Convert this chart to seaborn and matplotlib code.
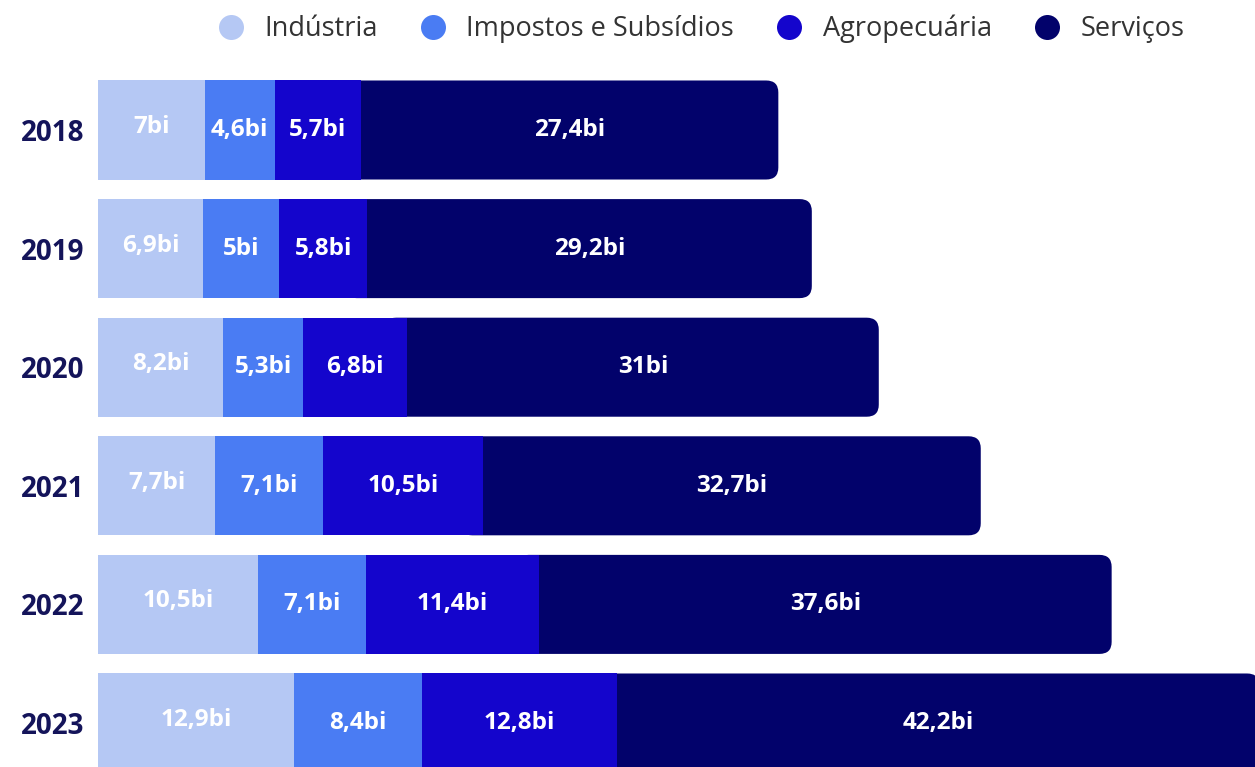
import matplotlib
matplotlib.use("Agg")
import matplotlib.pyplot as plt
from matplotlib.patches import FancyBboxPatch
from matplotlib.lines import Line2D
import numpy as np
import pandas as pd
import seaborn as sns

# PIB por setor (R$ bilhões)
anos = ["2018", "2019", "2020", "2021", "2022", "2023"]
industria = [7.0, 6.9, 8.2, 7.7, 10.5, 12.9]
impostos = [4.6, 5.0, 5.3, 7.1, 7.1, 8.4]
agropecuaria = [5.7, 5.8, 6.8, 10.5, 11.4, 12.8]
servicos = [27.4, 29.2, 31.0, 32.7, 37.6, 42.2]

setores = ["Indústria", "Impostos e Subsídios", "Agropecuária", "Serviços"]
cores = ["#b5c8f4", "#4a7cf3", "#1405cc", "#02026b"]

sns.set_theme(style="white")
plt.rcParams["font.family"] = ["Open Sans", "DejaVu Sans"]

df = pd.DataFrame({
    "ano": anos,
    "Indústria": industria,
    "Impostos e Subsídios": impostos,
    "Agropecuária": agropecuaria,
    "Serviços": servicos,
})
valores = df[setores].to_numpy()
acum = np.cumsum(valores, axis=1)
inicio = acum - valores

fig = plt.figure(figsize=(12.55, 7.67), dpi=100)
fig.patch.set_facecolor("white")
ax = fig.add_axes([98 / 1255, 0, 1157 / 1255, 1])

bar_h = 0.835
ultimo = len(setores) - 1
# Draw cumulative layers from the longest to the shortest so they stack visually
for k in range(ultimo, -1, -1):
    n_before = len(ax.patches)
    sns.barplot(x=acum[:, k], y=df["ano"], orient="h", color=cores[k],
                width=bar_h, saturation=1, ax=ax, linewidth=0)
    if k == ultimo:
        # full bars get a rounded right end; left part is hidden under the other layers
        novos = ax.patches[n_before:]
        geoms = [(p.get_x(), p.get_y(), p.get_width(), p.get_height()) for p in novos]
        for p in list(novos):
            p.remove()
        for i, (x0, y0, w, h) in enumerate(geoms):
            esq = x0 + w - valores[i, ultimo] - 1.5
            fb = FancyBboxPatch((esq, y0), x0 + w - esq, h,
                                boxstyle="round,pad=0,rounding_size=0.8",
                                mutation_aspect=0.127,
                                facecolor=cores[k], edgecolor="none", zorder=1)
            ax.add_patch(fb)

# Value labels
for i in range(len(anos)):
    for k in range(len(setores)):
        v = valores[i, k]
        txt = (f"{v:.1f}".replace(".", ",")).replace(",0", "") + "bi"
        dy = -0.025 if k == 0 else 0.0
        ax.text(inicio[i, k] + v / 2, i + dy, txt, ha="center", va="center",
                color="white", fontsize=17.5, fontweight="bold")

ax.set_xlim(0, 1157 / 15.22)
ax.set_ylim((767 - 130) / 118.6, -130 / 118.6)
ax.set_xlabel("")
ax.set_ylabel("")
ax.set_xticks([])
ax.tick_params(axis="y", length=0, pad=10)
for lbl in ax.get_yticklabels():
    lbl.set_fontsize(20)
    lbl.set_fontweight("bold")
    lbl.set_color("#14145a")
for s in ax.spines.values():
    s.set_visible(False)
ax.set_facecolor("white")

handles = [Line2D([0], [0], marker="o", linestyle="", markersize=18,
                  markerfacecolor=c, markeredgecolor="none") for c in cores]
fig.legend(handles, setores, loc="center", bbox_to_anchor=(694 / 1255, 1 - 29 / 767),
           ncol=4, frameon=False, fontsize=19.5, handletextpad=0.25,
           columnspacing=1.02, labelcolor="#333333")

fig.savefig("out.png", dpi=100, facecolor="white")
